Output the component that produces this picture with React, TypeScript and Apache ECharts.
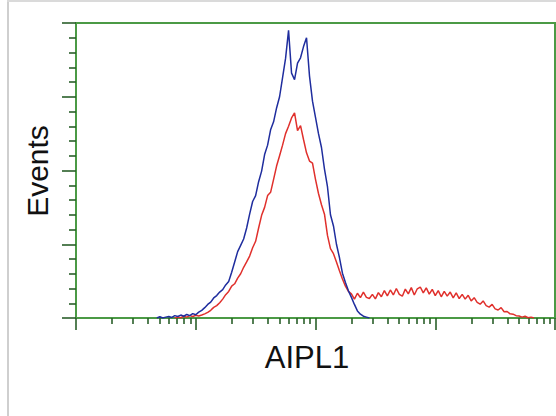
import React, { useEffect, useRef } from "react";
import * as echarts from "echarts";

// Histogram bins on a log10 fluorescence scale (decades 0..4)
const binStart = 0.6;
const binWidth = 0.025;

const blueStartBin = 3;
const blueCounts = [
  0, 0.4, 0, 0.3, 0.5, 0.2, 0.8, 0.5, 1.0, 0.6, 1.2, 0.8, 1.5, 1.1, 2.0, 2.6, 3.5, 4.6,
  5.4, 6.8, 7.6, 8.8, 9.6, 11.2, 12.4, 15.5, 19.0, 22.5, 24.6, 26.8, 30.5, 35.2, 39.5,
  41.5, 46.2, 49.8, 55.4, 58.6, 63.8, 66.5, 71.2, 75.0, 81.5, 88.0, 97.5, 83.0, 80.8,
  86.4, 88.2, 92.0, 95.0, 82.0, 73.5, 68.0, 62.5, 57.8, 50.5, 44.5, 35.0, 31.2, 25.0,
  20.5, 15.2, 12.0, 9.2, 7.0, 4.6, 2.4, 1.3, 0.6, 0.3, 0,
];

const redStartBin = 9;
const redCounts = [
  0, 0.3, 0.1, 0.6, 0.3, 0.8, 0.5, 0.9, 0.7, 1.0, 1.4, 1.9, 2.6, 3.6, 4.2, 5.2, 6.4, 7.9,
  9.0, 10.8, 11.6, 13.5, 15.0, 17.2, 19.0, 21.0, 23.8, 26.0, 30.5, 34.8, 37.5, 41.5,
  42.6, 47.0, 51.5, 55.0, 58.6, 62.5, 65.0, 67.8, 69.5, 63.5, 65.2, 60.5, 56.0, 53.2,
  52.5, 47.0, 42.2, 38.4, 35.2, 28.0, 23.5, 21.8, 19.0, 16.0, 13.2, 10.8, 9.0, 8.2, 6.4,
  8.4, 6.9, 8.8, 7.0, 6.6, 8.0, 6.5, 8.6, 7.2, 9.3, 7.5, 9.5, 7.8, 10.0, 8.0, 7.4, 9.8,
  8.2, 10.3, 7.8, 9.9, 10.5, 8.5, 10.2, 8.1, 9.7, 7.6, 9.3, 7.2, 9.0, 7.4, 8.8, 6.8, 8.5,
  6.6, 8.0, 6.4, 7.7, 5.8, 6.9, 5.3, 4.7, 5.8, 4.2, 3.7, 4.6, 3.1, 2.7, 3.5, 2.1, 2.2,
  1.4, 1.3, 0.8, 0.7, 0.3, 0.6, 0.1, 0.3, 0,
];

// Axis ticks
const decadeTicks = [0, 1, 2, 3, 4];
const minorMultipliers = [2, 3, 4, 5, 6, 7, 8, 9];
const yMax = 100;
const yInterval = 25;

const xTitle = "AIPL1";
const yTitle = "Events";

const GREEN = "#4b9a45";
const TICK = "#2a5f2a";
const FONT = "'Liberation Sans', Arial, Helvetica, sans-serif";

function toPairs(startBin: number, counts: number[]) {
  return counts.map((v, i) => [binStart + (startBin + i) * binWidth, v]);
}

export default function App() {
  const ref = useRef<HTMLDivElement>(null);

  useEffect(() => {
    if (!ref.current) return;
    const chart = echarts.init(ref.current, undefined, { renderer: "svg" });

    const minorTicks: number[] = [];
    for (let d = 0; d < decadeTicks.length - 1; d++) {
      for (const m of minorMultipliers) minorTicks.push(decadeTicks[d] + Math.log10(m));
    }

    chart.setOption({
      animation: false,
      backgroundColor: "#ffffff",
      grid: {
        left: 76,
        right: 1,
        top: 23,
        bottom: 98,
        show: true,
        borderColor: GREEN,
        borderWidth: 2,
        backgroundColor: "transparent",
      },
      xAxis: [
        {
          type: "value",
          min: decadeTicks[0],
          max: decadeTicks[decadeTicks.length - 1],
          interval: 1,
          axisLine: { show: true, lineStyle: { color: GREEN, width: 2 } },
          axisTick: { show: true, inside: false, length: 12, lineStyle: { color: TICK, width: 1.6 } },
          axisLabel: { show: false },
          splitLine: { show: false },
        },
        {
          type: "value",
          position: "bottom",
          min: decadeTicks[0],
          max: decadeTicks[decadeTicks.length - 1],
          axisLine: { show: false },
          axisTick: {
            show: true,
            inside: false,
            length: 6,
            customValues: minorTicks,
            lineStyle: { color: TICK, width: 1.6 },
          },
          axisLabel: { show: false },
          splitLine: { show: false },
        },
      ],
      yAxis: {
        type: "value",
        min: 0,
        max: yMax,
        interval: yInterval,
        axisLine: { show: true, lineStyle: { color: GREEN, width: 2 } },
        axisTick: { show: true, inside: false, length: 14, lineStyle: { color: TICK, width: 1.6 } },
        minorTick: { show: true, splitNumber: 5, length: 7, lineStyle: { color: TICK, width: 1.6 } },
        axisLabel: { show: false },
        splitLine: { show: false },
        minorSplitLine: { show: false },
      },
      series: [
        {
          name: "Control",
          type: "line",
          data: toPairs(redStartBin, redCounts),
          showSymbol: false,
          lineStyle: { color: "#e0302c", width: 1.5 },
          z: 3,
        },
        {
          name: "AIPL1",
          type: "line",
          data: toPairs(blueStartBin, blueCounts),
          showSymbol: false,
          lineStyle: { color: "#1f2d9e", width: 1.5 },
          z: 4,
        },
      ],
      graphic: [
        { type: "rect", shape: { x: 7, y: 0, width: 2, height: 416 }, style: { fill: "#cfcfcf" }, silent: true },
        { type: "rect", shape: { x: 7, y: 0, width: 549, height: 2 }, style: { fill: "#dadada" }, silent: true },
        {
          type: "text",
          x: 307,
          y: 357,
          style: { text: xTitle, fill: "#111", font: `31px ${FONT}`, align: "center", verticalAlign: "middle" },
        },
        {
          type: "text",
          x: 37,
          y: 171,
          rotation: Math.PI / 2,
          style: { text: yTitle, fill: "#111", font: `30px ${FONT}`, align: "center", verticalAlign: "middle" },
        },
      ],
    });

    return () => chart.dispose();
  }, []);

  return (
    <div
      ref={ref}
      style={{ position: "fixed", left: 0, top: 0, width: 556, height: 416 }}
    />
  );
}
